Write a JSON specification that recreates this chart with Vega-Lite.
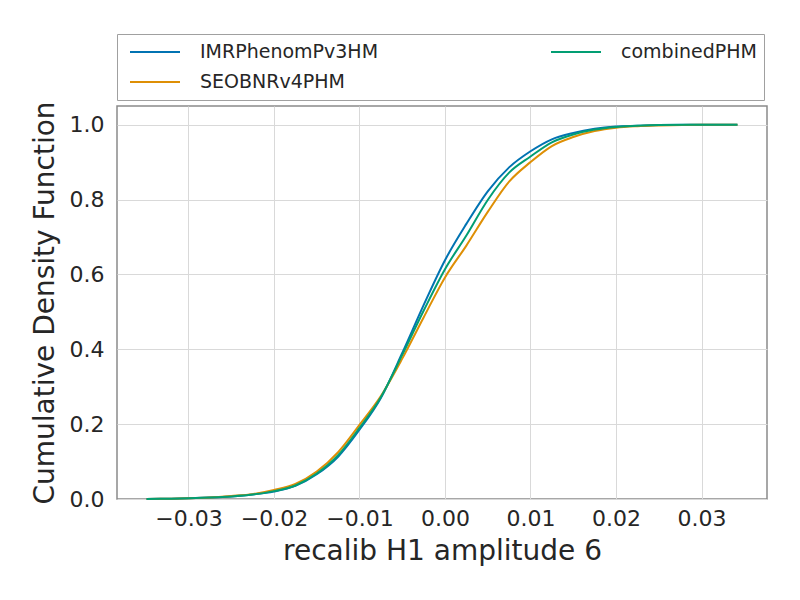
{
  "$schema": "https://vega.github.io/schema/vega-lite/v6.json",
  "width": 650,
  "height": 393,
  "autosize": {"type": "none"},
  "padding": {"left": 117, "top": 106, "right": 33, "bottom": 101},
  "background": "white",
  "config": {
    "font": "DejaVu Sans",
    "view": {"stroke": "#8a8a8a", "strokeWidth": 1.5},
    "axis": {
      "domain": false,
      "ticks": false,
      "grid": true,
      "gridColor": "#d9d9d9",
      "gridWidth": 1,
      "labelFont": "DejaVu Sans",
      "labelFontSize": 22,
      "labelColor": "#262626",
      "titleFont": "DejaVu Sans",
      "titleFontSize": 28,
      "titleFontWeight": "normal",
      "titleColor": "#262626"
    }
  },
  "data": {
    "values": [
      {"x": -0.0349, "IMRPhenomPv3HM": 0, "SEOBNRv4PHM": 0, "combinedPHM": 0},
      {"x": -0.032, "IMRPhenomPv3HM": 0.001, "SEOBNRv4PHM": 0.001, "combinedPHM": 0.001},
      {"x": -0.03, "IMRPhenomPv3HM": 0.002, "SEOBNRv4PHM": 0.002, "combinedPHM": 0.002},
      {"x": -0.0275, "IMRPhenomPv3HM": 0.004, "SEOBNRv4PHM": 0.004, "combinedPHM": 0.004},
      {"x": -0.025, "IMRPhenomPv3HM": 0.007, "SEOBNRv4PHM": 0.008, "combinedPHM": 0.007},
      {"x": -0.0225, "IMRPhenomPv3HM": 0.012, "SEOBNRv4PHM": 0.013, "combinedPHM": 0.012},
      {"x": -0.02, "IMRPhenomPv3HM": 0.020, "SEOBNRv4PHM": 0.024, "combinedPHM": 0.021},
      {"x": -0.0175, "IMRPhenomPv3HM": 0.035, "SEOBNRv4PHM": 0.040, "combinedPHM": 0.036},
      {"x": -0.015, "IMRPhenomPv3HM": 0.066, "SEOBNRv4PHM": 0.073, "combinedPHM": 0.068},
      {"x": -0.0125, "IMRPhenomPv3HM": 0.113, "SEOBNRv4PHM": 0.125, "combinedPHM": 0.117},
      {"x": -0.01, "IMRPhenomPv3HM": 0.185, "SEOBNRv4PHM": 0.198, "combinedPHM": 0.190},
      {"x": -0.0075, "IMRPhenomPv3HM": 0.270, "SEOBNRv4PHM": 0.275, "combinedPHM": 0.272},
      {"x": -0.005, "IMRPhenomPv3HM": 0.390, "SEOBNRv4PHM": 0.375, "combinedPHM": 0.385},
      {"x": -0.0025, "IMRPhenomPv3HM": 0.518, "SEOBNRv4PHM": 0.485, "combinedPHM": 0.503},
      {"x": 0, "IMRPhenomPv3HM": 0.638, "SEOBNRv4PHM": 0.592, "combinedPHM": 0.614},
      {"x": 0.0025, "IMRPhenomPv3HM": 0.735, "SEOBNRv4PHM": 0.677, "combinedPHM": 0.704},
      {"x": 0.005, "IMRPhenomPv3HM": 0.822, "SEOBNRv4PHM": 0.767, "combinedPHM": 0.799},
      {"x": 0.0075, "IMRPhenomPv3HM": 0.886, "SEOBNRv4PHM": 0.848, "combinedPHM": 0.872},
      {"x": 0.01, "IMRPhenomPv3HM": 0.929, "SEOBNRv4PHM": 0.900, "combinedPHM": 0.915},
      {"x": 0.0125, "IMRPhenomPv3HM": 0.961, "SEOBNRv4PHM": 0.943, "combinedPHM": 0.953},
      {"x": 0.015, "IMRPhenomPv3HM": 0.978, "SEOBNRv4PHM": 0.967, "combinedPHM": 0.974},
      {"x": 0.0175, "IMRPhenomPv3HM": 0.989, "SEOBNRv4PHM": 0.983, "combinedPHM": 0.987},
      {"x": 0.02, "IMRPhenomPv3HM": 0.995, "SEOBNRv4PHM": 0.992, "combinedPHM": 0.994},
      {"x": 0.0225, "IMRPhenomPv3HM": 0.997, "SEOBNRv4PHM": 0.996, "combinedPHM": 0.997},
      {"x": 0.025, "IMRPhenomPv3HM": 0.999, "SEOBNRv4PHM": 0.998, "combinedPHM": 0.999},
      {"x": 0.03, "IMRPhenomPv3HM": 1.0, "SEOBNRv4PHM": 1.0, "combinedPHM": 1.0},
      {"x": 0.0342, "IMRPhenomPv3HM": 1.0, "SEOBNRv4PHM": 1.0, "combinedPHM": 1.0}
    ]
  },
  "transform": [
    {"fold": ["IMRPhenomPv3HM", "SEOBNRv4PHM", "combinedPHM"], "as": ["model", "cdf"]}
  ],
  "mark": {"type": "line", "strokeWidth": 2, "interpolate": "monotone"},
  "encoding": {
    "x": {
      "field": "x",
      "type": "quantitative",
      "scale": {"domain": [-0.03836, 0.03766], "nice": false, "zero": false},
      "axis": {
        "title": "recalib H1 amplitude 6",
        "values": [-0.03, -0.02, -0.01, 0, 0.01, 0.02, 0.03],
        "format": ".2f",
        "labelPadding": 9,
        "titlePadding": 8
      }
    },
    "y": {
      "field": "cdf",
      "type": "quantitative",
      "scale": {"domain": [0, 1.05], "nice": false},
      "axis": {
        "title": "Cumulative Density Function",
        "values": [0, 0.2, 0.4, 0.6, 0.8, 1.0],
        "format": ".1f",
        "labelPadding": 13,
        "titlePadding": 10
      }
    },
    "color": {
      "field": "model",
      "type": "nominal",
      "scale": {
        "domain": ["IMRPhenomPv3HM", "SEOBNRv4PHM", "combinedPHM"],
        "range": ["#0173b2", "#de8f05", "#029e73"]
      },
      "legend": {
        "orient": "none",
        "legendX": 0,
        "legendY": -72,
        "columns": 2,
        "title": null,
        "symbolType": "stroke",
        "symbolSize": 2500,
        "symbolStrokeWidth": 2,
        "labelFont": "DejaVu Sans",
        "labelFontSize": 19,
        "labelColor": "#262626",
        "labelOffset": 19,
        "labelLimit": 400,
        "columnPadding": 166,
        "rowPadding": 8,
        "clipHeight": 22,
        "padding": 7,
        "symbolOffset": 5,
        "strokeColor": "#a0a0a0",
        "fillColor": "white",
        "cornerRadius": 0
      }
    }
  }
}
